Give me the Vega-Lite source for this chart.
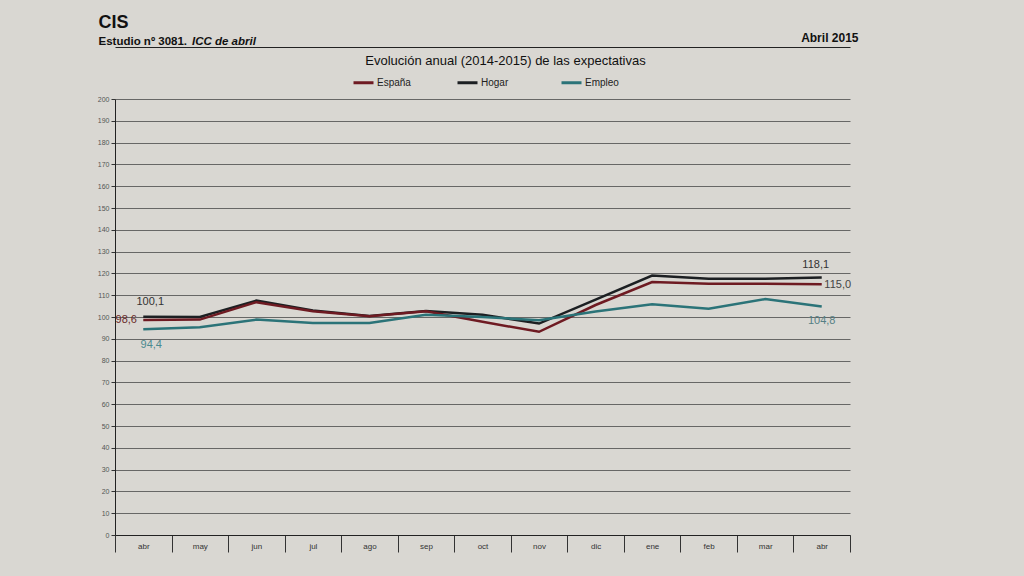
{
  "$schema": "https://vega.github.io/schema/vega-lite/v6.json",
  "width": 735,
  "height": 436,
  "autosize": {"type": "none"},
  "padding": {"left": 115, "top": 99, "right": 174, "bottom": 41},
  "background": "#d9d7d2",
  "title": {"text": "ICC de abril", "anchor": "start", "frame": "group", "dx": 77, "dy": 38, "fontSize": 11.5, "fontStyle": "italic", "fontWeight": "bold", "color": "#111"},
  "config": {
    "font": "Liberation Sans",
    "view": {"stroke": null},
    "locale": {"number": {"decimal": ",", "thousands": ".", "grouping": [3], "currency": ["", " €"]}}
  },
  "data": {"values": [
    {"mes": "abr-14", "serie": "Hogar", "valor": 100.1},
    {"mes": "may-14", "serie": "Hogar", "valor": 100.0},
    {"mes": "jun-14", "serie": "Hogar", "valor": 107.5},
    {"mes": "jul-14", "serie": "Hogar", "valor": 103.0},
    {"mes": "ago-14", "serie": "Hogar", "valor": 100.5},
    {"mes": "sep-14", "serie": "Hogar", "valor": 102.8},
    {"mes": "oct-14", "serie": "Hogar", "valor": 101.0},
    {"mes": "nov-14", "serie": "Hogar", "valor": 97.0},
    {"mes": "dic-14", "serie": "Hogar", "valor": 108.0},
    {"mes": "ene-15", "serie": "Hogar", "valor": 119.0},
    {"mes": "feb-15", "serie": "Hogar", "valor": 117.5},
    {"mes": "mar-15", "serie": "Hogar", "valor": 117.6},
    {"mes": "abr-15", "serie": "Hogar", "valor": 118.1},
    {"mes": "abr-14", "serie": "España", "valor": 98.6},
    {"mes": "may-14", "serie": "España", "valor": 98.8},
    {"mes": "jun-14", "serie": "España", "valor": 106.8},
    {"mes": "jul-14", "serie": "España", "valor": 102.6},
    {"mes": "ago-14", "serie": "España", "valor": 100.3},
    {"mes": "sep-14", "serie": "España", "valor": 102.6},
    {"mes": "oct-14", "serie": "España", "valor": 97.8},
    {"mes": "nov-14", "serie": "España", "valor": 93.2},
    {"mes": "dic-14", "serie": "España", "valor": 105.5},
    {"mes": "ene-15", "serie": "España", "valor": 116.0},
    {"mes": "feb-15", "serie": "España", "valor": 115.3},
    {"mes": "mar-15", "serie": "España", "valor": 115.3},
    {"mes": "abr-15", "serie": "España", "valor": 115.0},
    {"mes": "abr-14", "serie": "Empleo", "valor": 94.4},
    {"mes": "may-14", "serie": "Empleo", "valor": 95.3},
    {"mes": "jun-14", "serie": "Empleo", "valor": 98.8},
    {"mes": "jul-14", "serie": "Empleo", "valor": 97.3},
    {"mes": "ago-14", "serie": "Empleo", "valor": 97.3},
    {"mes": "sep-14", "serie": "Empleo", "valor": 101.0},
    {"mes": "oct-14", "serie": "Empleo", "valor": 100.0},
    {"mes": "nov-14", "serie": "Empleo", "valor": 98.5},
    {"mes": "dic-14", "serie": "Empleo", "valor": 102.5},
    {"mes": "ene-15", "serie": "Empleo", "valor": 105.8},
    {"mes": "feb-15", "serie": "Empleo", "valor": 103.8},
    {"mes": "mar-15", "serie": "Empleo", "valor": 108.2},
    {"mes": "abr-15", "serie": "Empleo", "valor": 104.8}
  ]},
  "encoding": {
    "x": {"field": "mes", "type": "ordinal",
      "sort": ["abr-14","may-14","jun-14","jul-14","ago-14","sep-14","oct-14","nov-14","dic-14","ene-15","feb-15","mar-15","abr-15"],
      "scale": {"type": "band", "paddingInner": 0, "paddingOuter": 0}},
    "y": {"field": "valor", "type": "quantitative", "scale": {"domain": [0, 200], "nice": false}}
  },
  "resolve": {"axis": {"x": "independent", "y": "independent"}},
  "layer": [
    {
      "mark": {"type": "line", "strokeWidth": 2.5},
      "encoding": {
        "x": {"field": "mes", "type": "ordinal",
          "sort": ["abr-14","may-14","jun-14","jul-14","ago-14","sep-14","oct-14","nov-14","dic-14","ene-15","feb-15","mar-15","abr-15"],
          "axis": {"orient": "bottom", "tickBand": "extent", "labelAngle": 0, "labelExpr": "slice(datum.label, 0, 3)",
            "domainColor": "#222", "tickColor": "#333", "tickSize": 17, "labelFontSize": 8, "labelColor": "#333", "labelPadding": -10,
            "grid": false,
            "title": "Evolución anual (2014-2015) de las expectativas", "titleX": 390, "titleY": -475, "titleAlign": "center", "titleBaseline": "middle",
            "titleFontSize": 13, "titleFontWeight": "normal", "titleColor": "#111"}},
        "y": {"field": "valor", "type": "quantitative",
          "axis": {"orient": "left", "tickCount": 20, "grid": true, "gridColor": "#4a4a4a", "gridWidth": 0.8,
            "domainColor": "#222", "tickColor": "#333", "tickSize": 4, "labelFontSize": 7, "labelColor": "#555", "labelPadding": 2,
            "title": "CIS", "titleAngle": 0, "titleX": -17, "titleY": -77, "titleAlign": "left", "titleBaseline": "middle",
            "titleFontSize": 18, "titleFontWeight": "bold", "titleColor": "#111"}},
        "color": {"field": "serie", "type": "nominal",
          "scale": {"domain": ["España", "Hogar", "Empleo"], "range": ["#6e1a22", "#1c1f22", "#2b7378"]},
          "legend": {"orient": "none", "legendX": 237, "legendY": -28, "direction": "horizontal", "title": null,
            "symbolType": "stroke", "symbolSize": 400, "symbolStrokeWidth": 3, "gridAlign": "all", "columnPadding": 40,
            "labelFontSize": 10, "labelColor": "#222", "labelOffset": 2}}
      }
    },
    {
      "transform": [{"filter": "datum.serie == 'Hogar' && datum.mes == 'abr-14'"}],
      "mark": {"type": "text", "dx": 7, "dy": -15, "fontSize": 11, "color": "#333"},
      "encoding": {
        "x": {"field": "mes", "type": "ordinal",
          "sort": ["abr-14","may-14","jun-14","jul-14","ago-14","sep-14","oct-14","nov-14","dic-14","ene-15","feb-15","mar-15","abr-15"],
          "axis": {"orient": "top", "offset": 52, "domain": true, "domainColor": "#222", "domainWidth": 1, "labels": false, "ticks": false, "grid": false,
            "title": "Estudio nº 3081.", "titleX": -17, "titleY": -6, "titleAlign": "left", "titleBaseline": "middle",
            "titleFontSize": 11.5, "titleFontWeight": "bold", "titleColor": "#111"}},
        "y": {"field": "valor", "type": "quantitative",
          "axis": {"orient": "right", "domain": false, "labels": false, "ticks": false, "grid": false,
            "title": "Abril 2015", "titleAngle": 0, "titleX": 8, "titleY": -62, "titleAlign": "right", "titleBaseline": "middle",
            "titleFontSize": 12, "titleFontWeight": "bold", "titleColor": "#111"}},
        "text": {"field": "valor", "type": "quantitative", "format": ".1f"}
      }
    },
    {
      "transform": [{"filter": "datum.serie == 'España' && datum.mes == 'abr-14'"}],
      "mark": {"type": "text", "dx": -17, "dy": 0, "fontSize": 11, "color": "#6a2a2a"},
      "encoding": {
        "x": {"field": "mes", "type": "ordinal", "axis": null,
          "sort": ["abr-14","may-14","jun-14","jul-14","ago-14","sep-14","oct-14","nov-14","dic-14","ene-15","feb-15","mar-15","abr-15"]},
        "y": {"field": "valor", "type": "quantitative", "axis": null},
        "text": {"field": "valor", "type": "quantitative", "format": ".1f"}
      }
    },
    {
      "transform": [{"filter": "datum.serie == 'Empleo' && datum.mes == 'abr-14'"}],
      "mark": {"type": "text", "dx": 8, "dy": 16, "fontSize": 11, "color": "#4b8a90"},
      "encoding": {
        "x": {"field": "mes", "type": "ordinal", "axis": null,
          "sort": ["abr-14","may-14","jun-14","jul-14","ago-14","sep-14","oct-14","nov-14","dic-14","ene-15","feb-15","mar-15","abr-15"]},
        "y": {"field": "valor", "type": "quantitative", "axis": null},
        "text": {"field": "valor", "type": "quantitative", "format": ".1f"}
      }
    },
    {
      "transform": [{"filter": "datum.serie == 'Hogar' && datum.mes == 'abr-15'"}],
      "mark": {"type": "text", "dx": -6, "dy": -13, "fontSize": 11, "color": "#333"},
      "encoding": {
        "x": {"field": "mes", "type": "ordinal", "axis": null,
          "sort": ["abr-14","may-14","jun-14","jul-14","ago-14","sep-14","oct-14","nov-14","dic-14","ene-15","feb-15","mar-15","abr-15"]},
        "y": {"field": "valor", "type": "quantitative", "axis": null},
        "text": {"field": "valor", "type": "quantitative", "format": ".1f"}
      }
    },
    {
      "transform": [{"filter": "datum.serie == 'España' && datum.mes == 'abr-15'"}],
      "mark": {"type": "text", "dx": 16, "dy": 1, "fontSize": 11, "color": "#444"},
      "encoding": {
        "x": {"field": "mes", "type": "ordinal", "axis": null,
          "sort": ["abr-14","may-14","jun-14","jul-14","ago-14","sep-14","oct-14","nov-14","dic-14","ene-15","feb-15","mar-15","abr-15"]},
        "y": {"field": "valor", "type": "quantitative", "axis": null},
        "text": {"field": "valor", "type": "quantitative", "format": ".1f"}
      }
    },
    {
      "transform": [{"filter": "datum.serie == 'Empleo' && datum.mes == 'abr-15'"}],
      "mark": {"type": "text", "dx": 0, "dy": 14, "fontSize": 11, "color": "#557f85"},
      "encoding": {
        "x": {"field": "mes", "type": "ordinal", "axis": null,
          "sort": ["abr-14","may-14","jun-14","jul-14","ago-14","sep-14","oct-14","nov-14","dic-14","ene-15","feb-15","mar-15","abr-15"]},
        "y": {"field": "valor", "type": "quantitative", "axis": null},
        "text": {"field": "valor", "type": "quantitative", "format": ".1f"}
      }
    }
  ]
}
